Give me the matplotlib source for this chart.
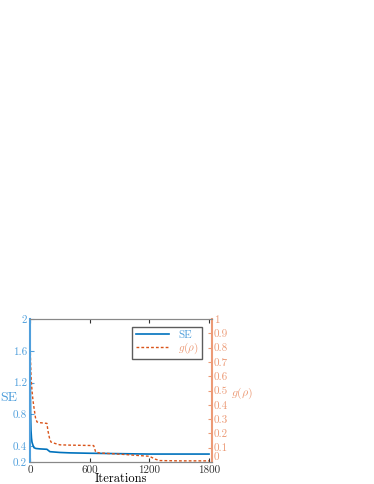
import matplotlib
matplotlib.use("Agg")
import matplotlib.pyplot as plt

plt.rcParams['font.family'] = ['cmr10', 'DejaVu Serif']
plt.rcParams['mathtext.fontset'] = 'cm'
plt.rcParams['axes.formatter.use_mathtext'] = True

# SE curve (left axis)
se_iter = [0, 3, 6, 10, 15, 20, 30, 40, 60, 100, 170, 185, 200, 250, 300, 400, 600, 900, 1200, 1500, 1800]
se_vals = [1.85, 1.2, 0.8, 0.6, 0.5, 0.45, 0.41, 0.38, 0.37, 0.365, 0.36, 0.345, 0.33, 0.325, 0.32, 0.315, 0.31, 0.305, 0.30, 0.30, 0.30]

# g(rho) curve (right axis)
g_iter = [0, 5, 10, 20, 30, 40, 55, 70, 100, 170, 180, 195, 210, 250, 300, 400, 640, 660, 700, 900, 1000, 1200, 1260, 1300, 1500, 1800]
g_vals = [0.90, 0.72, 0.60, 0.50, 0.43, 0.38, 0.31, 0.28, 0.275, 0.27, 0.22, 0.17, 0.14, 0.13, 0.12, 0.118, 0.115, 0.07, 0.063, 0.055, 0.05, 0.04, 0.02, 0.01, 0.008, 0.008]

se_ticks = [0.2, 0.4, 0.8, 1.2, 1.6, 2]
g_ticks = [0, 0.1, 0.2, 0.3, 0.4, 0.5, 0.6, 0.7, 0.8, 0.9, 1]
x_ticks = [0, 600, 1200, 1800]

blue = '#0072BD'
orange = '#D95319'
blue_axis = '#4f9fdc'
orange_axis = '#ec9a76'

fig = plt.figure(figsize=(3.74, 4.84), dpi=100)
ax = fig.add_axes([30 / 374, 22 / 484, 182 / 374, 143 / 484])
ax2 = ax.twinx()

l1, = ax.plot(se_iter, se_vals, color=blue, lw=1.2, label='SE')
l2, = ax2.plot(g_iter, g_vals, color=orange, lw=1.0, ls=(0, (2, 1.5)), label='$g(\\rho)$')

ax.set_xlim(0, 1830)
ax.set_ylim(0.2, 2)
ax2.set_ylim(0, 1)
ax.set_xticks(x_ticks)
ax.set_xticklabels([str(t) for t in x_ticks])
ax.set_yticks(se_ticks)
ax.set_yticklabels(['0.2', '0.4', '0.8', '1.2', '1.6', '2'])
ax2.set_yticks(g_ticks)
ax2.set_yticklabels(['0', '0.1', '0.2', '0.3', '0.4', '0.5', '0.6', '0.7', '0.8', '0.9', '1'])

ax.tick_params(axis='x', direction='in', top=True, length=3, labelsize=8, pad=2.5, colors='#333333')
ax.tick_params(axis='y', direction='in', length=3, labelsize=8, pad=2, colors=blue_axis)
ax2.tick_params(axis='y', direction='in', length=3, labelsize=8, pad=1.5, colors=orange_axis)

# lift the bottom right "0" so it sits above the 1800 label
ax2.yaxis.get_major_ticks()[0].label2.set_va('bottom')

for s in ['top', 'bottom']:
    ax.spines[s].set_color('#888888')
    ax2.spines[s].set_color('#888888')
ax2.spines['left'].set_color(blue_axis)
ax2.spines['left'].set_linewidth(1.5)
ax2.spines['right'].set_color(orange_axis)
ax2.spines['right'].set_linewidth(1.5)
ax.spines['left'].set_visible(False)
ax.spines['right'].set_visible(False)

ax.set_xlabel('Iterations', fontsize=9, labelpad=-1.5)
fig.text(0.5 / 374, 1 - 398 / 484, 'SE', fontsize=10, color=blue_axis, ha='left', va='center')
fig.text(231 / 374, 1 - 393 / 484, '$g(\\rho)$', fontsize=8.5, color=orange_axis, ha='left', va='center')

leg = ax.legend(handles=[l1, l2], loc='upper right', fontsize=8, frameon=True, fancybox=False,
                edgecolor='#333333', handlelength=3, borderaxespad=0.5, labelspacing=0.05,
                borderpad=0.3, bbox_to_anchor=(0.975, 0.985))
leg.get_frame().set_linewidth(1.0)
leg.texts[0].set_color(blue_axis)
leg.texts[1].set_color(orange_axis)

fig.savefig('out.png', dpi=100)
